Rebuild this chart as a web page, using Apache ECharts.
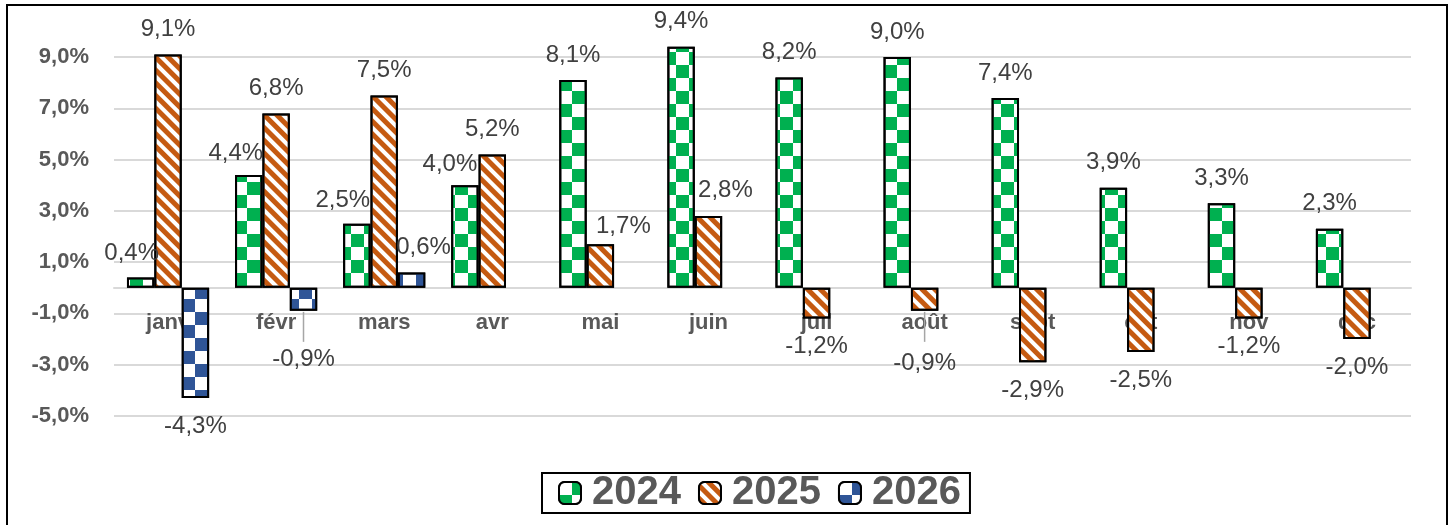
<!DOCTYPE html>
<html>
<head>
<meta charset="utf-8">
<script src="https://cdn.jsdelivr.net/npm/echarts@6/dist/echarts.min.js"></script>
<style>
  html, body { margin: 0; padding: 0; background: #fff; }
  #main { width: 1450px; height: 525px; }
</style>
</head>
<body>
<div id="main"></div>
<script>
var months = ['janv', 'févr', 'mars', 'avr', 'mai', 'juin', 'juil', 'août', 'sept', 'oct', 'nov', 'déc'];
var years = ['2024', '2025', '2026'];
var values2024 = [0.4, 4.4, 2.5, 4.0, 8.1, 9.4, 8.2, 9.0, 7.4, 3.9, 3.3, 2.3];
var values2025 = [9.1, 6.8, 7.5, 5.2, 1.7, 2.8, -1.2, -0.9, -2.9, -2.5, -1.2, -2.0];
var values2026 = [-4.3, -0.9, 0.6, null, null, null, null, null, null, null, null, null];

// labels that were nudged by hand in the original
var labelOffsets = {
    '0-0': [-9, 1], '0-1': [-13, 3], '0-2': [-14, 2], '0-3': [-15, 4],
    '1-4': [23, 7], '1-5': [17, -1], '1-7': [0, 25],
    '2-1': [0, 21], '2-2': [12, 0]
};
// [month index, series index] of the labels with a leader line
var leaderLines = [[7, 1], [1, 2]];

var CAT_GAP = 0.24;

function pct(v) {
    return v.toFixed(1).replace('.', ',') + '%';
}

function checker(color) {
    return {
        symbol: 'rect',
        color: color,
        dashArrayX: [[13, 13], [0, 13, 13, 0]],
        dashArrayY: [13, 0],
        symbolSize: 1,
        rotation: 0
    };
}

var decals = [
    checker('#00b050'),
    {
        symbol: 'rect',
        color: '#c55a11',
        dashArrayX: [1, 0],
        dashArrayY: [5, 4],
        symbolSize: 1,
        rotation: Math.PI / 4
    },
    checker('#2f5597')
];

function buildData(values, s) {
    return values.map(function (v, i) {
        if (v == null) return null;
        var neg = v < 0;
        return {
            value: v,
            label: {
                position: neg ? 'bottom' : 'top',
                distance: neg ? 16 : 13,
                offset: labelOffsets[s + '-' + i] || [0, 0]
            }
        };
    });
}

var chart = echarts.init(document.getElementById('main'));

var allValues = [values2024, values2025, values2026];
var series = allValues.map(function (vals, s) {
    return {
        name: years[s],
        type: 'bar',
        clip: false,
        barGap: '0%',
        barCategoryGap: (CAT_GAP * 100) + '%',
        data: buildData(vals, s),
        itemStyle: {
            color: '#ffffff',
            borderColor: '#000000',
            borderWidth: 2,
            decal: decals[s]
        },
        label: {
            show: true,
            formatter: function (p) { return pct(p.value); },
            fontFamily: 'Liberation Sans, Arial, sans-serif',
            fontSize: 24,
            color: '#404040'
        }
    };
});

// thin grey leader lines under two moved labels
series.push({
    type: 'custom',
    silent: true,
    z: 1,
    data: leaderLines.map(function (d) {
        return [d[0], allValues[d[1]][d[0]], d[1]];
    }),
    renderItem: function (params, api) {
        var p = api.coord([api.value(0), api.value(1)]);
        var band = api.size([1, 0])[0];
        var bw = band * (1 - CAT_GAP) / 3;
        var x = p[0] + (api.value(2) - 1) * bw;
        return {
            type: 'line',
            shape: { x1: x, y1: p[1] + 1, x2: x, y2: p[1] + 31 },
            style: { stroke: '#a6a6a6', lineWidth: 1.5 }
        };
    }
});

chart.setOption({
    animation: false,
    backgroundColor: '#ffffff',
    grid: { left: 114, right: 39, top: 57, bottom: 109 },
    legend: {
        data: years,
        left: 542,
        top: 473,
        itemWidth: 22,
        itemHeight: 22,
        itemGap: 17,
        borderColor: '#000',
        borderWidth: 2,
        padding: [0, 9, 0, 16],
        textStyle: {
            fontFamily: 'Liberation Sans, Arial, sans-serif',
            fontSize: 40,
            fontWeight: 'bold',
            color: '#595959',
            padding: [0, 0, 0, 6]
        }
    },
    xAxis: {
        type: 'category',
        data: months,
        offset: -128,
        axisTick: { show: false },
        axisLine: { onZero: false, lineStyle: { color: '#d9d9d9', width: 2 } },
        axisLabel: {
            margin: 24,
            fontFamily: 'Liberation Sans, Arial, sans-serif',
            fontSize: 22,
            fontWeight: 'bold',
            color: '#595959'
        }
    },
    yAxis: {
        type: 'value',
        min: -5,
        max: 9,
        interval: 2,
        axisLine: { show: false },
        axisTick: { show: false },
        splitLine: { lineStyle: { color: '#d9d9d9', width: 2 } },
        axisLabel: {
            margin: 25,
            formatter: pct,
            fontFamily: 'Liberation Sans, Arial, sans-serif',
            fontSize: 22,
            fontWeight: 'bold',
            color: '#595959'
        }
    },
    graphic: [{
        type: 'rect',
        shape: { x: 7, y: 5, width: 1440, height: 540 },
        style: { fill: 'none', stroke: '#000', lineWidth: 2 },
        silent: true,
        z: 100
    }],
    series: series
});
</script>
</body>
</html>
